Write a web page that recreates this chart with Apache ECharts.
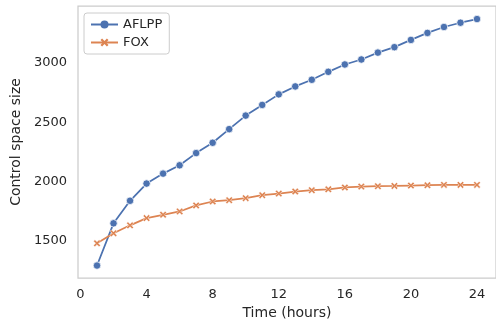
<!DOCTYPE html>
<html>
<head>
<meta charset="utf-8">
<script src="https://cdn.jsdelivr.net/npm/echarts@6/dist/echarts.min.js"></script>
<style>
  html, body { margin: 0; padding: 0; background: #fff; }
  #chart { width: 496px; height: 325px; }
</style>
</head>
<body>
<div id="chart"></div>
<script>
// data
const hours = [1, 2, 3, 4, 5, 6, 7, 8, 9, 10, 11, 12, 13, 14, 15, 16, 17, 18, 19, 20, 21, 22, 23, 24];
const aflpp = [1291, 1647, 1837, 1982, 2066, 2136, 2239, 2326, 2441, 2555, 2645, 2734,
               2801, 2857, 2924, 2986, 3028, 3086, 3132, 3193, 3252, 3302, 3338, 3369];
const fox = [1479, 1563, 1630, 1691, 1719, 1747, 1798, 1831, 1842, 1859, 1884, 1898,
             1915, 1926, 1934, 1949, 1957, 1960, 1962, 1965, 1968, 1971, 1971, 1971];
const xTicks = [0, 4, 8, 12, 16, 20, 24];
const yTicks = [1500, 2000, 2500, 3000];

const TEXT = '#262626';
const SPINE = '#cccccc';
const FONT = 'DejaVu Sans';
const X_MARK = 'path://M0,2 L2,0 L5,3 L8,0 L10,2 L7,5 L10,8 L8,10 L5,7 L2,10 L0,8 L3,5 Z';

const chart = echarts.init(document.getElementById('chart'), null, { renderer: 'canvas' });

chart.setOption({
  animation: false,
  textStyle: { fontFamily: FONT, color: TEXT },
  grid: {
    left: 78, top: 6, width: 424, height: 272,
    show: true, borderColor: SPINE, borderWidth: 1.25, backgroundColor: 'transparent'
  },
  legend: {
    orient: 'vertical',
    left: 84, top: 13,
    padding: [5, 7, 5, 6],
    itemGap: 5,
    itemWidth: 27, itemHeight: 10,
    borderColor: SPINE, borderWidth: 1, borderRadius: 3,
    backgroundColor: '#fff',
    textStyle: { fontFamily: FONT, fontSize: 13, color: TEXT },
    itemStyle: { borderWidth: 0 },
    data: ['AFLPP', 'FOX']
  },
  xAxis: {
    type: 'value',
    min: -0.15, max: 25.15,
    name: 'Time (hours)',
    nameLocation: 'middle', nameGap: 26,
    nameTextStyle: { fontFamily: FONT, fontSize: 14, color: TEXT },
    axisLine: { show: false },
    axisTick: { show: false },
    splitLine: { show: false },
    axisLabel: { customValues: xTicks, margin: 10, fontFamily: FONT, fontSize: 13, color: TEXT }
  },
  yAxis: {
    type: 'value',
    min: 1186, max: 3479,
    name: 'Control space size',
    nameLocation: 'middle', nameGap: 41,
    nameTextStyle: { fontFamily: FONT, fontSize: 14, color: TEXT },
    axisLine: { show: false },
    axisTick: { show: false },
    splitLine: { show: false },
    axisLabel: {
      customValues: yTicks, margin: 11, fontFamily: FONT, fontSize: 13, color: TEXT,
      formatter: (v) => String(v)
    }
  },
  series: [
    {
      name: 'AFLPP',
      type: 'line',
      data: hours.map((h, i) => [h, aflpp[i]]),
      symbol: 'circle',
      symbolSize: 7.5,
      lineStyle: { color: '#4c72b0', width: 1.75 },
      itemStyle: { color: '#4c72b0', borderColor: '#fff', borderWidth: 0.75 }
    },
    {
      name: 'FOX',
      type: 'line',
      data: hours.map((h, i) => [h, fox[i]]),
      symbol: X_MARK,
      symbolSize: 7,
      lineStyle: { color: '#dd8452', width: 1.75 },
      itemStyle: { color: '#dd8452', borderColor: '#fff', borderWidth: 0.5 }
    }
  ]
});
</script>
</body>
</html>
